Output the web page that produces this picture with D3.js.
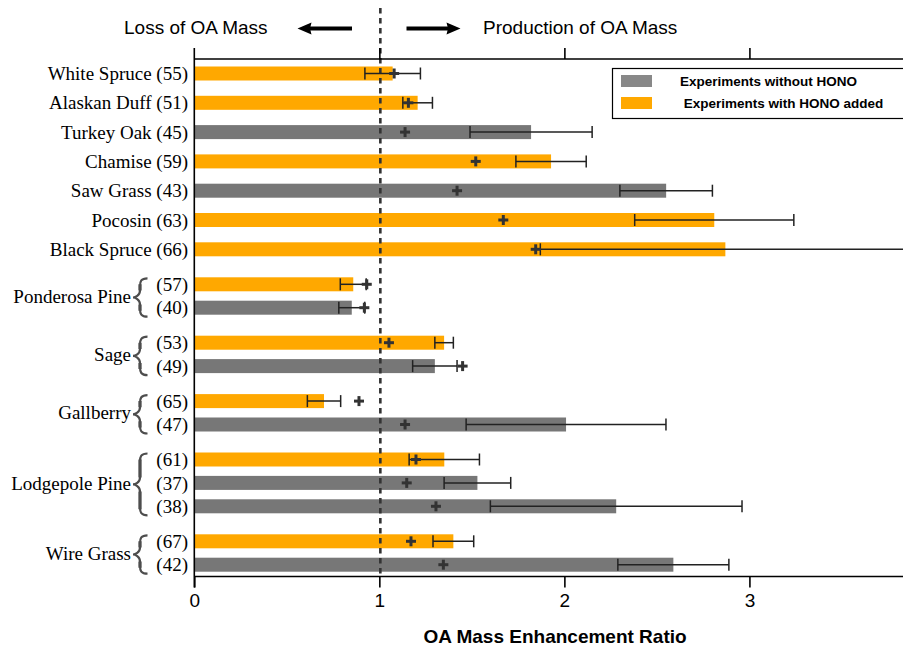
<!DOCTYPE html>
<html><head><meta charset="utf-8">
<script src="https://cdn.jsdelivr.net/npm/d3@7/dist/d3.min.js"></script>
<style>body{margin:0;background:#fff}svg{display:block}</style>
</head><body><svg id="c" width="903" height="646"></svg>
<script>
// ---- data ----
const groups   = ["White Spruce","Alaskan Duff","Turkey Oak","Chamise","Saw Grass","Pocosin","Black Spruce",
                  "Ponderosa Pine","Ponderosa Pine","Sage","Sage","Gallberry","Gallberry",
                  "Lodgepole Pine","Lodgepole Pine","Lodgepole Pine","Wire Grass","Wire Grass"];
const runIds   = ["55","51","45","59","43","63","66","57","40","53","49","65","47","61","37","38","67","42"];
const series   = ["hono","hono","nohono","hono","nohono","hono","hono","hono","nohono","hono","nohono",
                  "hono","nohono","hono","nohono","nohono","hono","nohono"];
const ratio    = [1.072,1.207,1.82,1.928,2.55,2.81,2.87,0.859,0.851,1.35,1.30,0.701,2.009,1.351,1.53,2.28,1.40,2.589];
const errHalf  = [0.15,0.08,0.33,0.19,0.25,0.43,1.00,0.07,0.07,0.05,0.12,0.09,0.54,0.19,0.18,0.68,0.11,0.30];
const plusVal  = [1.08,1.157,1.139,1.521,1.42,1.67,1.845,0.932,0.919,1.052,1.45,0.89,1.139,1.198,1.148,1.306,1.171,1.346];
const xTicks   = [0,1,2,3];
const seriesNames = {nohono:"Experiments without HONO", hono:" Experiments with HONO added"};

// ---- layout ----
const svg = d3.select("#c");
const x = d3.scaleLinear().domain([0,3.83]).range([194.3,903]);
const topY = 59, botY = 576.5, barH = 14;
const colors = {hono:"#FFA800", nohono:"#777777"};
const legendColors = {hono:"#FFA800", nohono:"#888888"};

const groupCount = {};
groups.forEach(g => groupCount[g] = (groupCount[g]||0)+1);
const ys = [];
groups.forEach((g,i) => {
  if (i===0) { ys.push(73.5); return; }
  const prev = groups[i-1];
  let step;
  if (g===prev) step = 23.4;
  else if (groupCount[g]===1 && groupCount[prev]===1) step = 29.3;
  else step = 35;
  ys.push(ys[i-1]+step);
});

const rows = groups.map((g,i)=>({g, id:runIds[i], s:series[i], v:ratio[i], e:errHalf[i], p:plusVal[i], y:ys[i]}));

svg.append("defs").append("clipPath").attr("id","clip")
  .append("rect").attr("x",194).attr("y",0).attr("width",709).attr("height",646);

// bars
svg.append("g").selectAll("rect").data(rows).join("rect")
  .attr("x", x(0)).attr("y", d=>d.y-barH/2)
  .attr("width", d=>x(d.v)-x(0)).attr("height", barH)
  .attr("fill", d=>colors[d.s]);

// dashed line at 1
svg.append("line").attr("x1",x(1)+1).attr("x2",x(1)+1).attr("y1",8).attr("y2",botY)
  .attr("stroke","#333").attr("stroke-width",2.6).attr("stroke-dasharray","5.5,4.5");

// error bars
const eg = svg.append("g").attr("clip-path","url(#clip)").attr("stroke","#222").attr("stroke-width",1.5);
rows.forEach(d=>{
  const lo = x(d.v-d.e), hi = x(d.v+d.e);
  eg.append("line").attr("x1",lo).attr("x2",hi).attr("y1",d.y).attr("y2",d.y);
  [lo,hi].forEach(xx=>eg.append("line").attr("x1",xx).attr("x2",xx).attr("y1",d.y-6).attr("y2",d.y+6));
});

// plus markers
const pg = svg.append("g").attr("stroke","#333").attr("stroke-width",3);
rows.forEach(d=>{
  const cx = x(d.p);
  pg.append("line").attr("x1",cx-5).attr("x2",cx+5).attr("y1",d.y).attr("y2",d.y);
  pg.append("line").attr("x1",cx).attr("x2",cx).attr("y1",d.y-5).attr("y2",d.y+5);
});

// axes
const sans = "Liberation Sans, Arial, sans-serif";
const bottomAxis = d3.axisBottom(x).tickValues(xTicks).tickSize(11).tickPadding(6).tickFormat(d3.format("d"));
const gb = svg.append("g").attr("transform",`translate(0,${botY})`).call(bottomAxis);
gb.select(".domain").attr("stroke","#000").attr("stroke-width",1.6).attr("d",`M${x(0)},0H903`);
gb.selectAll(".tick line").attr("stroke","#000").attr("stroke-width",1.6);
gb.selectAll(".tick text").attr("font-family",sans).attr("font-size",19).attr("fill","#000");

const topAxis = d3.axisTop(x).tickValues([1,2,3]).tickSize(11).tickFormat("");
const gt = svg.append("g").attr("transform",`translate(0,${topY})`).call(topAxis);
gt.select(".domain").attr("stroke","#000").attr("stroke-width",1.6).attr("d",`M${x(0)},0H903`);
gt.selectAll(".tick line").attr("stroke","#000").attr("stroke-width",1.6);

svg.append("line").attr("x1",x(0)).attr("x2",x(0)).attr("y1",48).attr("y2",botY+11)
  .attr("stroke","#000").attr("stroke-width",1.6);

// axis title
svg.append("text").attr("x",555).attr("y",643).attr("text-anchor","middle")
  .attr("font-family",sans).attr("font-weight","bold").attr("font-size",19)
  .text("OA Mass Enhancement Ratio");

// top annotations
svg.append("text").attr("x",124).attr("y",34).attr("font-family",sans).attr("font-size",19).text("Loss of OA Mass");
svg.append("text").attr("x",483).attr("y",34).attr("font-family",sans).attr("font-size",19).text("Production of OA Mass");
function arrow(x0, x1, y){
  const dir = Math.sign(x1-x0), hl = 14, hw = 6;
  svg.append("line").attr("x1",x0).attr("x2",x1-dir*hl+dir*2).attr("y1",y).attr("y2",y).attr("stroke","#000").attr("stroke-width",4);
  svg.append("path").attr("d",`M${x1},${y}L${x1-dir*hl},${y-hw}L${x1-dir*(hl-1.5)},${y}L${x1-dir*hl},${y+hw}Z`).attr("fill","#000");
}
arrow(352, 297.5, 28.5);
arrow(406.5, 460.5, 28.5);

// labels
const serif = "Liberation Serif, Times New Roman, serif";
const lg = svg.append("g").attr("font-family",serif).attr("font-size",19).attr("fill","#000");
rows.forEach(d=>{
  const txt = groupCount[d.g]===1 ? `${d.g} (${d.id})` : `(${d.id})`;
  lg.append("text").attr("x",188).attr("y",d.y).attr("dy","0.35em").attr("text-anchor","end").text(txt);
});
const gnames = [...new Set(groups)].filter(g=>groupCount[g]>1);
gnames.forEach(g=>{
  const gy = rows.filter(r=>r.g===g).map(r=>r.y);
  const y0 = d3.min(gy)-6, y1 = d3.max(gy)+9, ym = (y0+y1)/2;
  lg.append("text").attr("x",131).attr("y",(d3.min(gy)+d3.max(gy))/2).attr("dy","0.35em").attr("text-anchor","end").text(g);
  const xe = 147.5, xb = 140, xt = 133;
  const p = `M${xe},${y0} C${xb+1},${y0} ${xb},${y0+3} ${xb},${y0+8} L${xb},${ym-7} C${xb},${ym-2} ${xt+2},${ym} ${xt},${ym}`
          + ` C${xt+2},${ym} ${xb},${ym+2} ${xb},${ym+7} L${xb},${y1-8} C${xb},${y1-3} ${xb+1},${y1} ${xe},${y1}`;
  svg.append("path").attr("d",p).attr("fill","none").attr("stroke","#4d4d4d").attr("stroke-width",2.2);
  svg.append("path").attr("d",`M${xb},${y0+6}L${xb},${ym-7}M${xb},${ym+7}L${xb},${y1-6}`)
    .attr("fill","none").attr("stroke","#4d4d4d").attr("stroke-width",3.2);
});

// legend
const leg = svg.append("g");
leg.append("rect").attr("x",612.5).attr("y",68.5).attr("width",300).attr("height",50)
  .attr("fill","#fff").attr("stroke","#000").attr("stroke-width",1.2);
[["nohono",81],["hono",103]].forEach(([k,yy])=>{
  leg.append("rect").attr("x",621).attr("y",yy-6).attr("width",31).attr("height",12).attr("fill",legendColors[k]);
  leg.append("text").attr("x",680).attr("y",yy).attr("dy","0.35em").attr("font-family",sans)
    .attr("font-weight","bold").attr("font-size",13.5).style("white-space","pre").text(seriesNames[k]);
});
</script></body></html>
